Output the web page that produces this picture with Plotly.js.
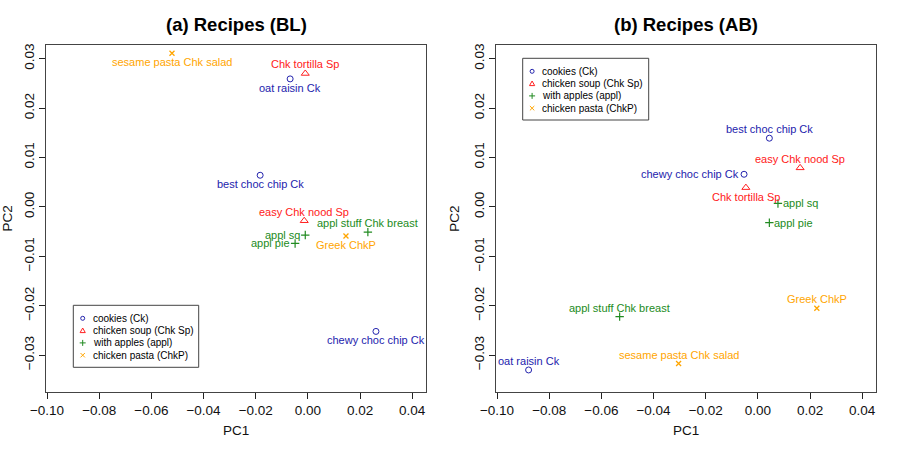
<!DOCTYPE html>
<html>
<head>
<meta charset="utf-8">
<script src="https://cdn.plot.ly/plotly-3.0.1.min.js"></script>
<style>html,body{margin:0;padding:0;background:#fff;}#chart{width:900px;height:450px;}</style>
</head>
<body>
<div id="chart"></div>
<script>
// ---------- data ----------
const recipes = ["oat raisin Ck", "best choc chip Ck", "chewy choc chip Ck",
                 "Chk tortilla Sp", "easy Chk nood Sp",
                 "appl sq", "appl pie", "appl stuff Chk breast",
                 "sesame pasta Chk salad", "Greek ChkP"];
const groups = ["Ck", "Ck", "Ck", "Sp", "Sp", "appl", "appl", "appl", "ChkP", "ChkP"];
const groupKeys = ["Ck", "Sp", "appl", "ChkP"];
const groupNames = ["cookies (Ck)", "chicken soup (Chk Sp)", "with apples (appl)", "chicken pasta (ChkP)"];

// (a) BL
const pc1BL = [-0.0068, -0.0183, 0.0261, -0.0010, -0.0014, -0.0010, -0.0049, 0.0230, -0.0521, 0.0146];
const pc2BL = [0.0259, 0.0064, -0.0252, 0.0270, -0.0028, -0.0057, -0.0074, -0.0051, 0.0311, -0.0059];
// (b) AB
const pc1AB = [-0.0879, 0.0044, -0.0053, -0.0046, 0.0162, 0.0077, 0.0044, -0.0530, -0.0304, 0.0226];
const pc2AB = [-0.0330, 0.0139, 0.0066, 0.0039, 0.0079, 0.0007, -0.0032, -0.0222, -0.0317, -0.0205];

const xTicks = [-0.10, -0.08, -0.06, -0.04, -0.02, 0.00, 0.02, 0.04];
const yTicks = [-0.03, -0.02, -0.01, 0.00, 0.01, 0.02, 0.03];
const panelTitles = ["(a) Recipes (BL)", "(b) Recipes (AB)"];

// ---------- styles ----------
const labelPosBL = ["below", "below", "below", "above", "above", "left", "left", "above", "below", "below"];
const labelPosAB = ["above", "above", "left", "below", "above", "right", "right", "above", "above", "above"];
const groupColor = {Ck: "#2323ad", Sp: "#ff2020", appl: "#228b22", ChkP: "#ffa500"};
const groupSymbol = {Ck: "circle-open", Sp: "triangle-up-open", appl: "cross-thin-open", ChkP: "x-thin-open"};
const groupSize = {Ck: 6, Sp: 7, appl: 6, ChkP: 5};
const groupLineW = {Ck: 1, Sp: 1, appl: 1.2, ChkP: 1.3};
const FONT = "Liberation Sans, Arial, Helvetica, sans-serif";

const W = 900, H = 450;
const px = v => v / W;
const py = v => 1 - v / H;

const xRange = [-0.1004, 0.0454];
const yRange = [-0.0374, 0.0327];
const xDomains = [[46 / W, 426.3 / W], [496 / W, 876.3 / W]];
const yDomain = [1 - 391.7 / H, 1 - 45.3 / H];

const traces = [];
const annotations = [];
const shapes = [];

const panels = [
  {x: pc1BL, y: pc2BL, pos: labelPosBL, xa: "x", ya: "y"},
  {x: pc1AB, y: pc2AB, pos: labelPosAB, xa: "x2", ya: "y2"}
];

panels.forEach((p, pi) => {
  groupKeys.forEach((g, gi) => {
    const idx = groups.map((gg, i) => gg === g ? i : -1).filter(i => i >= 0);
    traces.push({
      type: "scatter", mode: "markers",
      x: idx.map(i => p.x[i]), y: idx.map(i => p.y[i]),
      text: idx.map(i => recipes[i]),
      name: groupNames[gi],
      xaxis: p.xa, yaxis: p.ya,
      showlegend: false,
      hoverinfo: "text",
      marker: {symbol: groupSymbol[g], size: groupSize[g], color: groupColor[g],
               line: {width: groupLineW[g], color: groupColor[g]}}
    });
  });
  recipes.forEach((r, i) => {
    const pos = p.pos[i];
    const a = {
      xref: p.xa, yref: p.ya, x: p.x[i], y: p.y[i], text: r, showarrow: false,
      font: {family: FONT, size: 11, color: groupColor[groups[i]]},
      xanchor: "center", yanchor: "middle", xshift: 0, yshift: 0, borderpad: 0
    };
    if (pos === "below") a.yshift = -9;
    if (pos === "above") a.yshift = 9;
    if (pos === "left") { a.xanchor = "right"; a.xshift = -4; }
    if (pos === "right") { a.xanchor = "left"; a.xshift = 4; }
    annotations.push(a);
  });
  // panel title
  const xc = (xDomains[pi][0] + xDomains[pi][1]) / 2;
  annotations.push({
    xref: "paper", yref: "paper", x: xc, y: py(24), xanchor: "center", yanchor: "middle",
    text: "<b>" + panelTitles[pi] + "</b>", showarrow: false,
    font: {family: FONT, size: 18.5, color: "#000"}
  });
});

// legends (drawn as keys + text)
function addLegend(x0, y0, x1, y1) {
  shapes.push({type: "rect", xref: "paper", yref: "paper", x0: px(x0), x1: px(x1), y0: py(y1), y1: py(y0),
               line: {color: "#444", width: 1}, fillcolor: "rgba(255,255,255,1)", layer: "above"});
  const sx = x0 + 9.4, tx = x0 + 18.7;
  groupKeys.forEach((g, gi) => {
    const cy = y0 + 13 + gi * 12.3;
    const c = groupColor[g];
    if (g === "Ck") {
      shapes.push({type: "circle", xref: "paper", yref: "paper", x0: px(sx - 2), x1: px(sx + 2), y0: py(cy + 2), y1: py(cy - 2),
                   line: {color: c, width: 1}, layer: "above"});
    } else if (g === "Sp") {
      const path = "M" + px(sx - 2.6) + "," + py(cy + 2) + " L" + px(sx + 2.6) + "," + py(cy + 2) +
                   " L" + px(sx) + "," + py(cy - 2.6) + " Z";
      shapes.push({type: "path", xref: "paper", yref: "paper", path: path, line: {color: c, width: 1}, layer: "above"});
    } else if (g === "appl") {
      const path = "M" + px(sx - 3) + "," + py(cy) + " L" + px(sx + 3) + "," + py(cy) +
                   " M" + px(sx) + "," + py(cy - 3) + " L" + px(sx) + "," + py(cy + 3);
      shapes.push({type: "path", xref: "paper", yref: "paper", path: path, line: {color: c, width: 1}, layer: "above"});
    } else {
      const d = 2.2;
      const path = "M" + px(sx - d) + "," + py(cy - d) + " L" + px(sx + d) + "," + py(cy + d) +
                   " M" + px(sx - d) + "," + py(cy + d) + " L" + px(sx + d) + "," + py(cy - d);
      shapes.push({type: "path", xref: "paper", yref: "paper", path: path, line: {color: c, width: 1}, layer: "above"});
    }
    annotations.push({xref: "paper", yref: "paper", x: px(tx), y: py(cy), xanchor: "left", yanchor: "middle",
                      text: groupNames[gi], showarrow: false, borderpad: 0,
                      font: {family: FONT, size: 10, color: "#000"}});
  });
}
addLegend(73.3, 305.3, 198.7, 367.3);
addLegend(522.7, 58.3, 648.7, 120);

function xAxis(pi, anchor) {
  return {
    domain: xDomains[pi], anchor: anchor, range: xRange,
    tickmode: "array", tickvals: xTicks, ticktext: xTicks.map(v => v.toFixed(2).replace("-", "\u2212")),
    ticks: "outside", ticklen: 6, tickcolor: "#222", tickwidth: 1,
    showline: true, linecolor: "#444", linewidth: 1, mirror: true,
    showgrid: false, zeroline: false,
    tickfont: {family: FONT, size: 13.5, color: "#111"},
    title: {text: "PC1", font: {family: FONT, size: 13.5, color: "#111"}, standoff: 8}
  };
}
function yAxis(pi, anchor) {
  return {
    domain: yDomain, anchor: anchor, range: yRange,
    tickmode: "array", tickvals: yTicks, ticktext: yTicks.map(v => v.toFixed(2).replace("-", "\u2212")),
    ticks: "outside", ticklen: 6, tickcolor: "#222", tickwidth: 1, tickangle: -90,
    showline: true, linecolor: "#444", linewidth: 1, mirror: true,
    showgrid: false, zeroline: false,
    tickfont: {family: FONT, size: 13.5, color: "#111"},
    title: {text: "PC2", font: {family: FONT, size: 13.5, color: "#111"}, standoff: 8}
  };
}

const layout = {
  width: W, height: H,
  margin: {l: 0, r: 0, t: 0, b: 0},
  paper_bgcolor: "#fff", plot_bgcolor: "#fff",
  showlegend: false,
  xaxis: xAxis(0, "y"), yaxis: yAxis(0, "x"),
  xaxis2: xAxis(1, "y2"), yaxis2: yAxis(1, "x2"),
  annotations: annotations, shapes: shapes
};

Plotly.newPlot("chart", traces, layout, {staticPlot: true, displayModeBar: false});
</script>
</body>
</html>
